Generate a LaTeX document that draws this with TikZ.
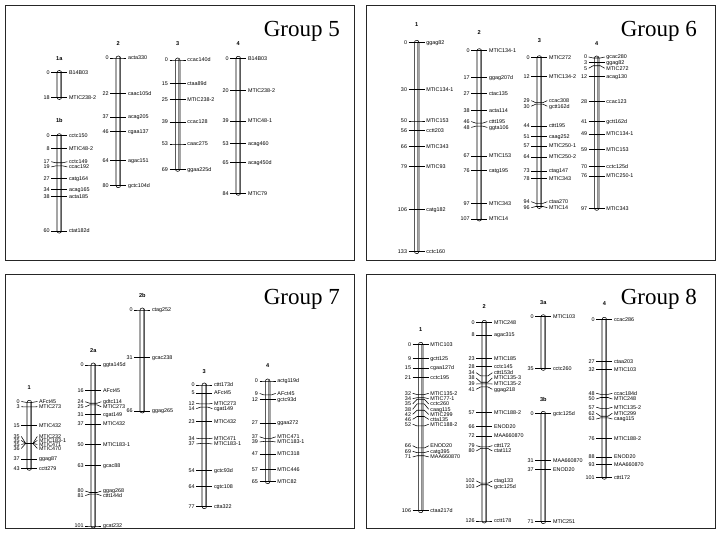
\documentclass[tikz,border=0pt]{standalone}
\usepackage{fontspec}
\setmainfont{Liberation Serif}
\setsansfont{Liberation Sans}
\newcommand\labfont{\sffamily\fontsize{5.4pt}{6pt}\selectfont}
\newcommand\ctfont{\sffamily\bfseries\fontsize{5.6pt}{6pt}\selectfont}
\tikzset{
  frame/.style={draw=black!85, line width=0.7pt},
  barline/.style={draw=black, fill=white, line width=0.55pt, rounded corners=2.2pt},
  barshade/.style={draw=black!45, line width=1.1pt},
  tickline/.style={draw=black, line width=0.55pt},
  num/.style={anchor=base east, inner sep=0pt, yshift=-1.9pt, font=\labfont},
  lab/.style={anchor=base west, inner sep=0pt, yshift=-1.9pt, font=\labfont},
  ctitle/.style={anchor=base, inner sep=0pt, yshift=-2pt, font=\ctfont},
  gtitle/.style={anchor=base east, inner sep=0pt, font=\fontsize{23pt}{26pt}\selectfont}
}
% chromosome: x, y0, scale, length, title, title y
\newcommand\chr[6]{%
  \def\cx{#1}\def\cy{#2}\def\cs{#3}%
  \pgfmathsetmacro\cb{#2+#4*#3}%
  \filldraw[barline] (#1-2.3,#2-2) rectangle (#1+2.3,\cb+2);
  \draw[barshade] (#1+1,#2-0.6) -- (#1+1,\cb+0.6);
  \node[ctitle] at (#1,#6) {#5};
}
% marker: [label dy]{cM}{name}
\newcommand\mk[3][0]{%
  \pgfmathsetmacro\yt{\cy+#2*\cs}%
  \pgfmathsetmacro\yl{\yt+#1}%
  \draw[tickline] (\cx-8,\yl) -- (\cx-3.6,\yt) -- (\cx+3.6,\yt) -- (\cx+8,\yl);
  \node[num] at (\cx-9.5,\yl) {#2};
  \node[lab] at (\cx+9.5,\yl) {#3};
}
% marker with separate displayed number: {dy}{pos}{num}{name}
\newcommand\mkx[4]{%
  \pgfmathsetmacro\yt{\cy+#2*\cs}%
  \pgfmathsetmacro\yl{\yt+#1}%
  \draw[tickline] (\cx-8,\yl) -- (\cx-3.6,\yt) -- (\cx+3.6,\yt) -- (\cx+8,\yl);
  \node[num] at (\cx-9.5,\yl) {#3};
  \node[lab] at (\cx+9.5,\yl) {#4};
}
\begin{document}
\begin{tikzpicture}[x=1pt,y=-1pt]
\useasboundingbox (0,0) rectangle (720,540);
% panels
\draw[frame] (5,5) rectangle (354,260);
\draw[frame] (366,5) rectangle (715,260);
\draw[frame] (5,274) rectangle (354,528);
\draw[frame] (366,274) rectangle (715,528);
\node[gtitle] (g5) at (340,37) {Group 5};
\node[gtitle] (g6) at (697,37) {Group 6};
\node[gtitle] (g7) at (340,304) {Group 7};
\node[gtitle] (g8) at (697,304) {Group 8};

% ===== Group 5 =====
\chr{59.3}{72.5}{1.389}{18}{1a}{59}
\mk{0}{B14B03}\mk{18}{MTIC238-2}
\chr{59.3}{135.7}{1.59}{60}{1b}{120.5}
\mk{0}{cctc150}\mk{8}{MTIC48-2}\mk[-1]{17}{cctc149}\mk[1]{19}{ccac192}
\mk{27}{catg164}\mk{34}{acag165}\mk{38}{acta185}\mk{60}{ctat182d}
\chr{118.3}{58}{1.596}{80}{2}{44}
\mk{0}{acta330}\mk{22}{caac105d}\mk{37}{acag205}\mk{46}{cgaa137}\mk{64}{agac151}\mk{80}{gctc104d}
\chr{177.7}{60}{1.585}{69}{3}{44}
\mk{0}{ccac140d}\mk{15}{ctaa89d}\mk{25}{MTIC238-2}\mk{39}{ccac128}\mk{53}{caac275}\mk{69}{ggaa225d}
\chr{238.3}{58.3}{1.607}{84}{4}{44}
\mk{0}{B14B03}\mk{20}{MTIC238-2}\mk{39}{MTIC48-1}\mk{53}{acag460}\mk{65}{acag450d}\mk{84}{MTIC79}

% ===== Group 6 =====
\chr{416.7}{42.3}{1.574}{133}{1}{24.5}
\mk{0}{ggag82}\mk{30}{MTIC134-1}\mk{50}{MTIC153}\mk{56}{cctt203}\mk{66}{MTIC343}
\mk{79}{MTIC93}\mk{106}{catg182}\mk{133}{cctc160}
\chr{479.3}{50.7}{1.573}{107}{2}{33}
\mk{0}{MTIC134-1}\mk{17}{ggag207d}\mk{27}{ctac135}\mk{38}{acta114}\mk[-1.5]{46}{cttt195}
\mk[1.2]{48}{ggta106}\mk{67}{MTIC153}\mk{76}{catg195}\mk{97}{MTIC343}\mk{107}{MTIC14}
\chr{539.3}{57.7}{1.55}{96}{3}{41}
\mk{0}{MTIC272}\mk{12}{MTIC134-2}\mk[-2]{29}{ccac308}\mk[2]{30}{gctt162d}\mk{44}{cttt195}
\mk{51}{caag252}\mk{57}{MTIC250-1}\mk{64}{MTIC250-2}\mk{73}{ctag147}\mk{78}{MTIC343}
\mk[-1.7]{94}{ctaa270}\mk[1.2]{96}{MTIC14}
\chr{596.7}{58}{1.55}{97}{4}{43.5}
\mk[-1]{0}{gcac280}\mk{3}{ggag82}\mk[2.5]{5}{MTIC272}\mk{12}{acag130}\mk{28}{ccac123}
\mk{41}{gctt162d}\mk{49}{MTIC134-1}\mk{59}{MTIC153}\mk{70}{cctc125d}\mk{76}{MTIC250-1}\mk{97}{MTIC343}

% ===== Group 7 =====
\chr{29.3}{402.3}{1.535}{43}{1}{387}
\mk[-0.8]{0}{AFct45}\mk[-0.2]{3}{MTIC273}\mk{15}{MTIC432}
\mkx{-7}{26.8}{35}{MTIC232}\mkx{-3}{26.8}{35}{MTIC183-1}
\mkx{1}{26.8}{35}{MTIC471}\mkx{5}{26.8}{36}{MTIC470}
\mk{37}{ggag87}\mk{43}{cctt279}
\chr{93.3}{365}{1.594}{101}{2a}{350}
\mk{0}{ggta145d}\mk{16}{AFct45}\mk[-1.5]{24}{gdtc114}\mk[2]{25}{MTIC273}\mk{31}{cgat149}
\mk{37}{MTIC432}\mk{50}{MTIC183-1}\mk{63}{gcac88}\mk[-1.5]{80}{ggag268}\mk[1.5]{81}{cttt144d}
\mk{101}{gcat232}
\chr{142.3}{310}{1.53}{66}{2b}{295}
\mk{0}{ctag252}\mk{31}{gcac238}\mk{66}{ggag265}
\chr{204.3}{385}{1.58}{77}{3}{371.5}
\mk{0}{cttt173d}\mk{5}{AFct45}\mk[-0.5]{12}{MTIC273}\mk[1.5]{14}{cgat149}\mk{23}{MTIC432}
\mk[-0.5]{34}{MTIC471}\mk[0.5]{37}{MTIC183-1}\mk{54}{gctc93d}\mk{64}{cgtc108}\mk{77}{ctta322}
\chr{267.7}{381}{1.549}{65}{4}{365}
\mk{0}{actg119d}\mk[-1.5]{9}{AFct45}\mk{12}{gctc93d}\mk{27}{ggaa272}\mk[-1.5]{37}{MTIC471}
\mk[0.5]{39}{MTIC183-1}\mk{47}{MTIC318}\mk{57}{MTIC446}\mk{65}{MTIC82}

% ===== Group 8 =====
\chr{420.7}{344.3}{1.57}{106}{1}{329.5}
\mk{0}{MTIC103}\mk{9}{gctt125}\mk{15}{cgaa127d}\mk{21}{cctc195}
\mk[-1.2]{32}{MTIC135-2}\mk[1]{34}{MTIC77-1}\mk[4.7]{35}{cctc260}\mk[5.3]{38}{caag115}
\mk[4.1]{42}{MTIC299}\mk[2.8]{46}{ctta135}\mk[-1.7]{52}{MTIC188-2}
\mk[-2.2]{66}{ENOD20}\mk[-1.3]{69}{catg395}\mk[1.2]{71}{MAA660870}\mk{106}{ctaa217d}
\chr{484.3}{322.3}{1.577}{126}{2}{306.5}
\mk{0}{MTIC248}\mk{8}{agac315}\mk{23}{MTIC185}\mk{28}{cctc145}\mk[-3.2]{34}{cttt153d}
\mk[-4.2]{38}{MTIC135-3}\mk[0.2]{39}{MTIC135-2}\mk[2.3]{41}{ggag218}\mk{57}{MTIC188-2}
\mk{66}{ENOD20}\mk{72}{MAA660870}\mk[-1.2]{79}{cttt172}\mk[2.5]{80}{ctat112}
\mk[-2.2]{102}{ctag133}\mk[2.3]{103}{gctc125d}\mk{126}{cctt178}
\chr{543.3}{316.7}{1.476}{35}{3a}{302}
\mk{0}{MTIC103}\mk{35}{cctc260}
\chr{543.3}{413.3}{1.526}{71}{3b}{399}
\mk{0}{gctc125d}\mk{31}{MAA660870}\mk{37}{ENOD20}\mk{71}{MTIC251}
\chr{604.3}{319.3}{1.564}{101}{4}{303}
\mk{0}{ccac286}\mk{27}{ctaa203}\mk{32}{MTIC103}\mk[-1]{48}{ccac184d}\mk[1.5]{50}{MTIC248}
\mk[-1.2]{57}{MTIC135-2}\mk[-3]{62}{MTIC299}\mk[1.2]{63}{caag115}\mk{76}{MTIC188-2}
\mk{88}{ENOD20}\mk{93}{MAA660870}\mk{101}{cttt172}
\end{tikzpicture}
\end{document}
